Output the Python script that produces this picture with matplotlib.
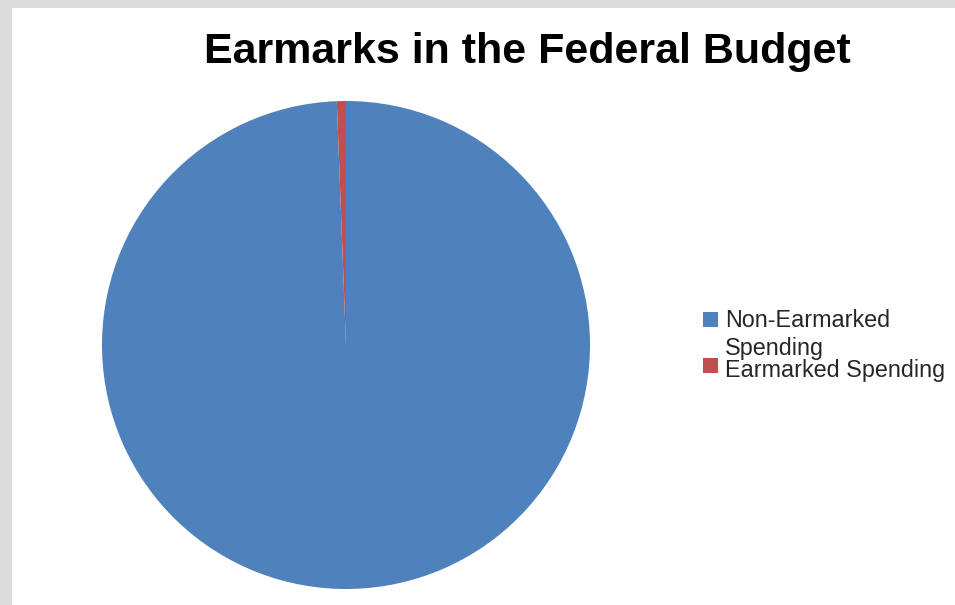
import matplotlib.pyplot as plt
from matplotlib.patches import Rectangle

# share of the federal budget
labels = ["Non-Earmarked\nSpending", "Earmarked Spending"]
shares = [99.4, 0.6]
colors = ["#4F81BD", "#C0504D"]

plt.rcParams['font.family'] = ['Liberation Sans', 'DejaVu Sans']

W, H = 955, 605
fig = plt.figure(figsize=(W / 100, H / 100), dpi=100, facecolor="white")
# grey frame at top and left
fig.patches.append(Rectangle((0, 1 - 8 / H), 1, 8 / H, transform=fig.transFigure,
                             facecolor="#dcdcdc", edgecolor="none"))
fig.patches.append(Rectangle((0, 0), 12 / W, 1, transform=fig.transFigure,
                             facecolor="#dcdcdc", edgecolor="none"))

ax = fig.add_axes([102 / W, 16 / H, 488 / W, 488 / H])
wedges, _ = ax.pie(shares, colors=colors, startangle=90, counterclock=False,
                   wedgeprops=dict(linewidth=0))
ax.set_xlim(-1, 1)
ax.set_ylim(-1, 1)
ax.set_aspect("equal")
ax.axis("off")

fig.text(527 / W, 1 - 63 / H, "Earmarks in the Federal Budget", ha="center", va="baseline",
         fontsize=31, fontweight="bold", color="black")

# legend drawn by hand to match the tight line wrapping
sq_tops = [312, 358]
baselines = [[327, 355], [377]]
for lab, col, top, bls in zip(labels, colors, sq_tops, baselines):
    fig.patches.append(Rectangle((703 / W, 1 - (top + 15) / H), 15 / W, 15 / H,
                                 transform=fig.transFigure, facecolor=col, edgecolor="none"))
    for line, bl in zip(lab.split("\n"), bls):
        fig.text(725 / W, 1 - bl / H, line, ha="left", va="baseline",
                 fontsize=16.8, color="#262626")

fig.savefig("out.png", dpi=100, facecolor=fig.get_facecolor())
